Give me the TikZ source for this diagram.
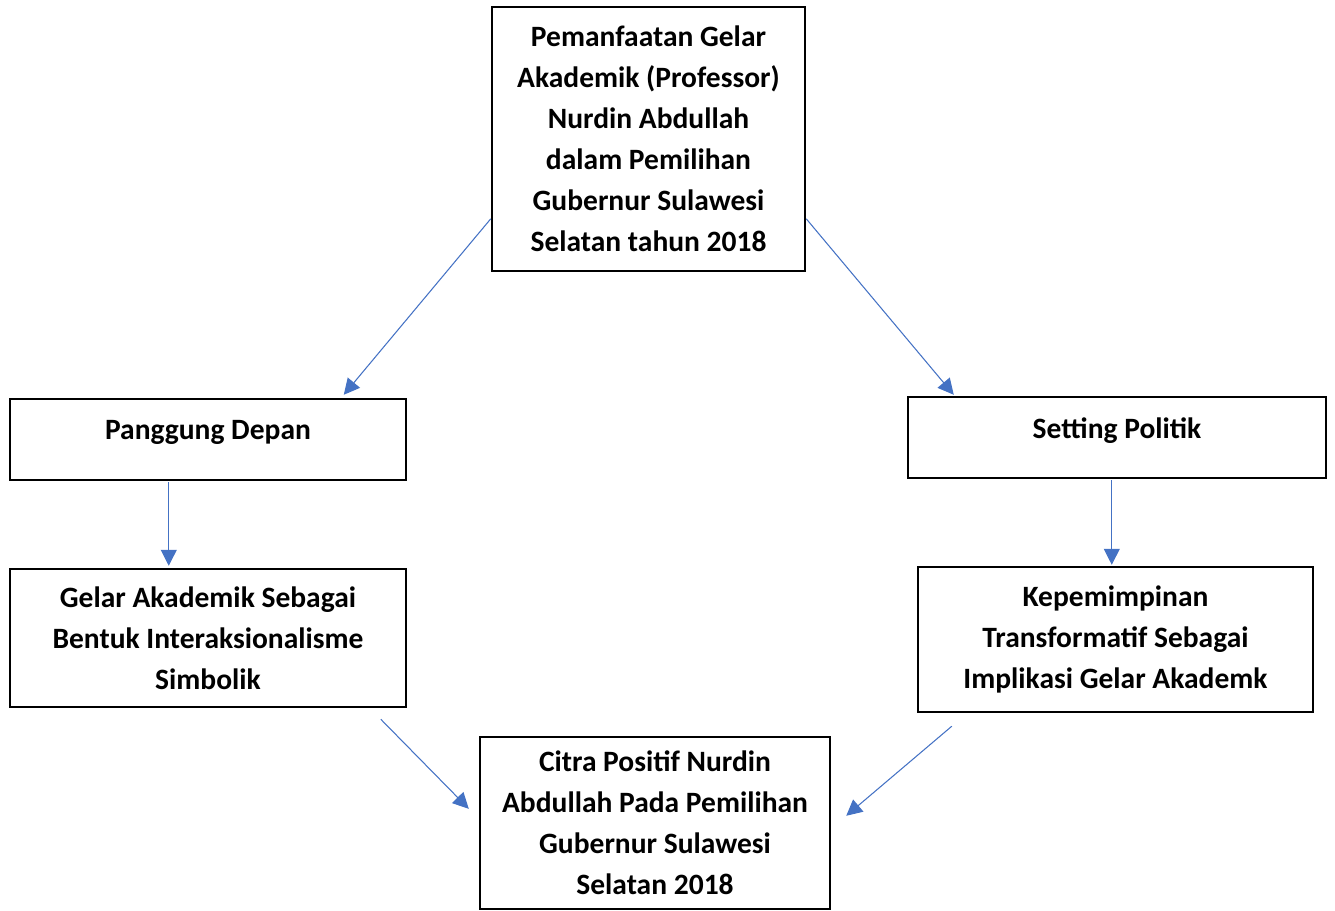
\documentclass[tikz,border=0pt]{standalone}
\usepackage{fontspec}
\setmainfont{Carlito}
\usepackage{tikz}
\usetikzlibrary{arrows.meta,calc}
\definecolor{arrowblue}{RGB}{68,114,196}

\begin{document}
\begin{tikzpicture}[
    x=0.02cm, y=-0.02cm,
    box/.style={rectangle, draw=black, line width=1.4pt, fill=white, inner sep=0pt,
        align=center, font=\fontsize{16.8}{23.3}\selectfont\bfseries},
    arrow/.style={-{Triangle[length=9pt, width=9pt]}, line width=0.6pt, color=arrowblue}
]
    \useasboundingbox (0,0) rectangle (1335,910);

    % Top box
    \node[box, minimum width=313*0.02cm, minimum height=264*0.02cm] (pemanfaatan) at (648.5,139)
        {Pemanfaatan Gelar\\Akademik (Professor)\\Nurdin Abdullah\\dalam Pemilihan\\Gubernur Sulawesi\\Selatan tahun 2018};

    % --- Left branch ---
    \node[box, minimum width=396*0.02cm, minimum height=81*0.02cm, text depth=11pt] (panggung) at (208,439.5)
        {Panggung Depan};
    \node[box, minimum width=396*0.02cm, minimum height=138*0.02cm] (gelar) at (208,638)
        {Gelar Akademik Sebagai\\Bentuk Interaksionalisme\\Simbolik};

    % --- Right branch ---
    \node[box, minimum width=418*0.02cm, minimum height=81*0.02cm, text depth=11pt] (setting) at (1117,437.5)
        {Setting Politik};
    \node[box, minimum width=395*0.02cm, minimum height=145*0.02cm] (kepemimpinan) at (1115.5,639.5)
        {Kepemimpinan\\Transformatif Sebagai\\Implikasi Gelar Akademk};

    % Bottom box
    \node[box, minimum width=350*0.02cm, minimum height=172*0.02cm] (citra) at (655,823)
        {Citra Positif Nurdin\\Abdullah Pada Pemilihan\\Gubernur Sulawesi\\Selatan 2018};

    % Connectors
    \draw[arrow] ($(pemanfaatan.north west)+(0,213)$) -- ($(panggung.north west)+(335,-3)$);
    \draw[arrow] ($(pemanfaatan.north east)+(0,213)$) -- ($(setting.north west)+(47,-1)$);
    \draw[arrow] ($(panggung.south west)+(160,1)$) -- ($(gelar.north west)+(160,-2)$);
    \draw[arrow] ($(setting.south west)+(205,1)$) -- ($(kepemimpinan.north west)+(195,-1)$);
    \draw[arrow] ($(gelar.south west)+(372,11)$) -- ($(citra.north west)+(-10,73)$);
    \draw[arrow] ($(kepemimpinan.south west)+(35,13)$) -- ($(citra.north east)+(15,80)$);
\end{tikzpicture}
\end{document}
